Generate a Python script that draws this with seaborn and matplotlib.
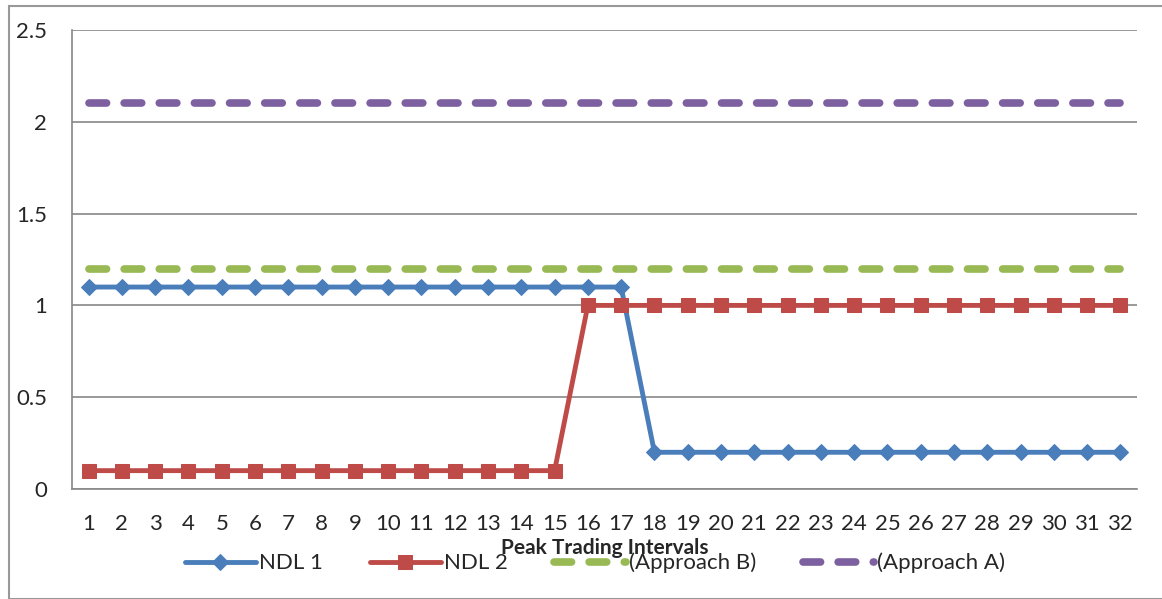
import numpy as np
import pandas as pd
import matplotlib
matplotlib.use("Agg")
import matplotlib.pyplot as plt
import seaborn as sns
from matplotlib.patches import Rectangle

intervals = list(range(1, 33))
ndl1 = [1.1] * 17 + [0.2] * 15
ndl2 = [0.1] * 15 + [1.0] * 17
approach_b = [1.2] * 32
approach_a = [2.1] * 32

series_names = ["NDL 1", "NDL 2", "(Approach B)", "(Approach A)"]
series_values = [ndl1, ndl2, approach_b, approach_a]
colors = ["#4a7ebb", "#be4b48", "#98b954", "#7d60a0"]

df = pd.concat(
    [pd.DataFrame({"interval": intervals, "value": v, "series": n})
     for n, v in zip(series_names, series_values)],
    ignore_index=True,
)

sns.set_theme(style="white")
plt.rcParams["font.family"] = ["Lato", "DejaVu Sans"]

fig = plt.figure(figsize=(11.62, 5.99), dpi=100)
ax = fig.add_axes([72 / 1162, 1 - 489 / 599, (1137 - 72) / 1162, (489 - 30) / 599])

styles = {
    "NDL 1": dict(marker="D", markersize=8, linestyle="-", linewidth=3.5),
    "NDL 2": dict(marker="s", markersize=10, linestyle="-", linewidth=3.5),
    "(Approach B)": dict(marker=None, linestyle=(0, (2.3, 2.3)), linewidth=5.5, dash_capstyle="round"),
    "(Approach A)": dict(marker=None, linestyle=(0, (2.3, 2.3)), linewidth=5.5, dash_capstyle="round"),
}

for name, col in zip(series_names, colors):
    st = styles[name]
    sub = df[df["series"] == name]
    sns.lineplot(data=sub, x="interval", y="value", ax=ax, color=col,
                 label=name, marker=st["marker"], markersize=st.get("markersize", 0),
                 markeredgecolor=col, linewidth=st["linewidth"],
                 linestyle=st["linestyle"],
                 dash_capstyle=st.get("dash_capstyle", "butt"))

ax.set_xlim(0.5, 32.5)
ax.set_ylim(0, 2.5)
ax.set_yticks([0, 0.5, 1, 1.5, 2, 2.5])
ax.set_yticklabels(["0", "0.5", "1", "1.5", "2", "2.5"])
ax.set_xticks(intervals)
ax.set_xticks(np.arange(0.5, 33, 1), minor=True)
ax.yaxis.grid(True, color="#888888", linewidth=1.2)
ax.set_axisbelow(True)
for s in ["top", "right"]:
    ax.spines[s].set_visible(False)
for s in ["left", "bottom"]:
    ax.spines[s].set_color("#888888")
    ax.spines[s].set_linewidth(1.2)

ax.tick_params(axis="x", which="major", length=0, labelsize=16, pad=18)
ax.tick_params(axis="x", which="minor", length=6, color="#888888", width=1.2, direction="out")
ax.tick_params(axis="y", which="major", length=6, color="#888888", width=1.2,
               direction="out", labelsize=16, pad=12)

ax.set_xlabel("Peak Trading Intervals", fontsize=15, fontweight="bold")
ax.xaxis.set_label_coords(0.5, -59 / 459)
ax.xaxis.label.set_verticalalignment("center")
ax.set_ylabel("")

ax.legend(loc="center", bbox_to_anchor=(0.491, -74 / 459), ncol=4, frameon=False,
          fontsize=16, handlelength=3.2, columnspacing=2.1, handletextpad=0.15)

fig.patches.append(Rectangle((9 / 1162, 0), 1.2, 1 - 6 / 599, transform=fig.transFigure,
                             fill=False, edgecolor="#999999", linewidth=1.5))

fig.savefig("out.png", dpi=100)
